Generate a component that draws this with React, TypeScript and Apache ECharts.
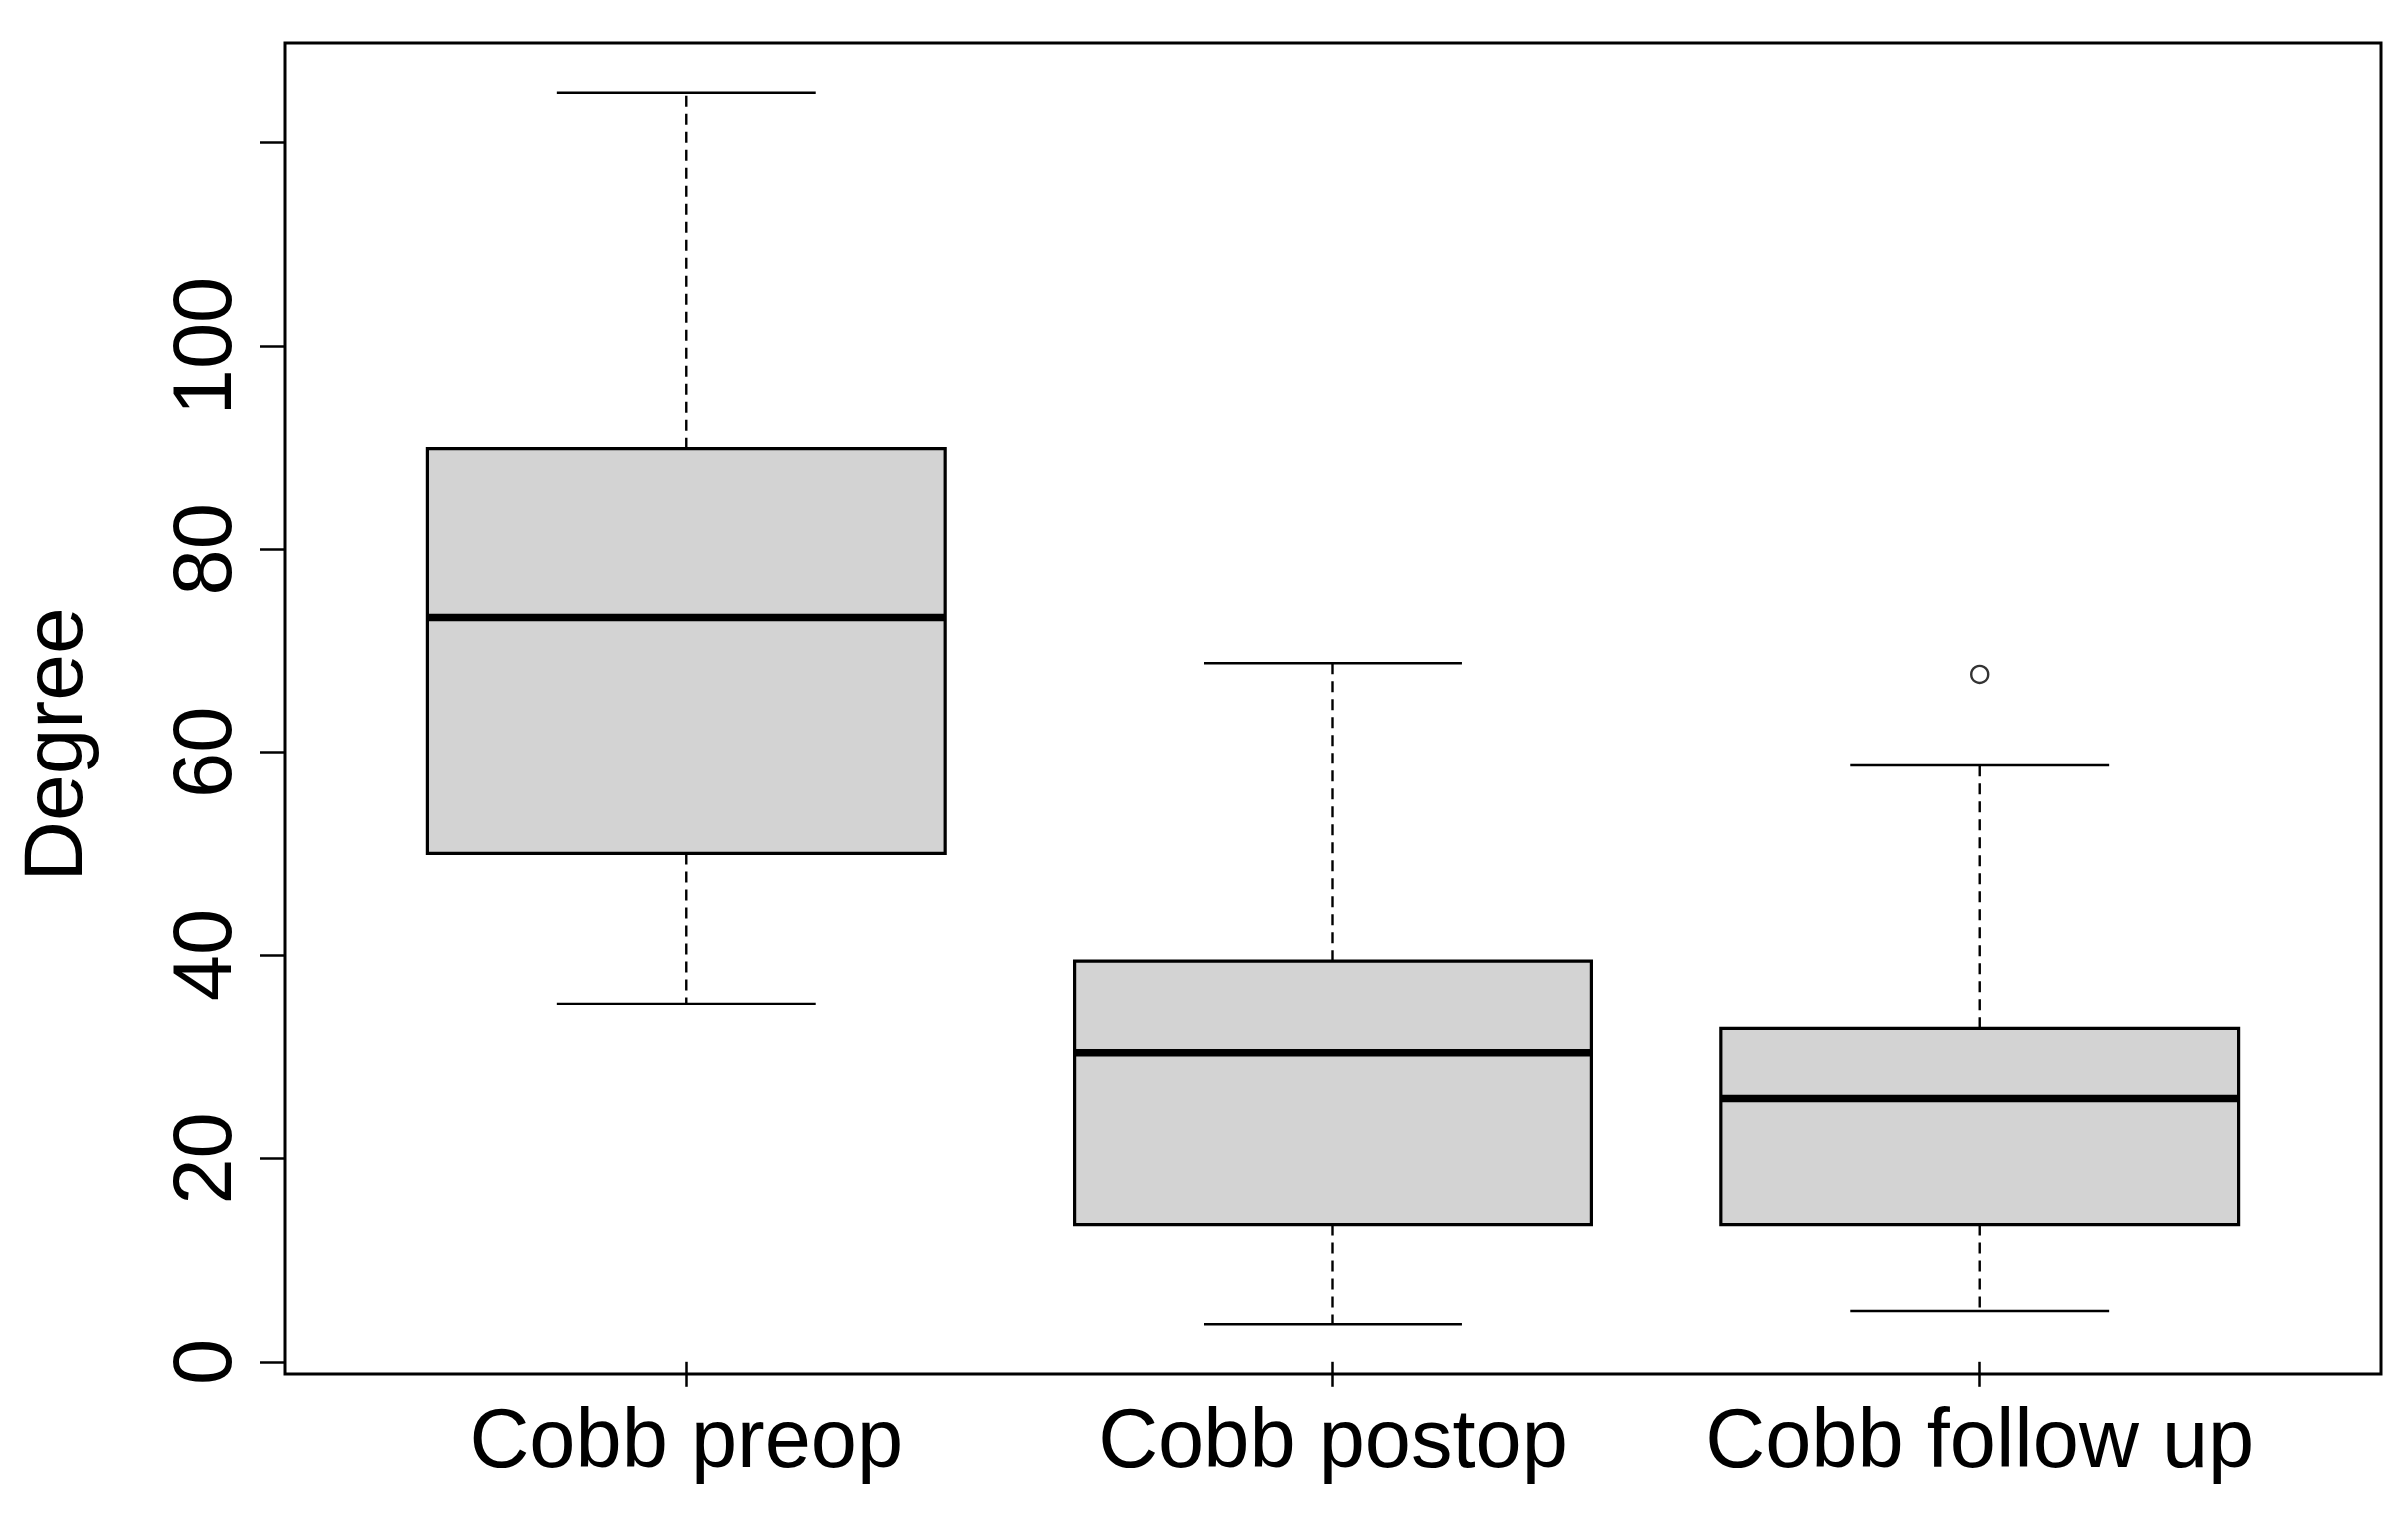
import React, { useEffect, useRef } from "react";
import * as echarts from "echarts";

const categories = ["Cobb preop", "Cobb postop", "Cobb follow up"];
const lowerWhisker = [35.2, 3.7, 5.0];
const q1 = [50.0, 13.5, 13.5];
const median = [73.3, 30.4, 25.9];
const q3 = [89.9, 39.4, 32.8];
const upperWhisker = [124.9, 68.8, 58.7];
const outlierCategory = [3];
const outlierValue = [67.7];
const yTickValues = [0, 20, 40, 60, 80, 100, 120];
const yLabelValues = [0, 20, 40, 60, 80, 100];
const yAxisTitle = "Degree";

const FONT = "'Liberation Sans', Arial, sans-serif";

export default function App() {
  const ref = useRef<HTMLDivElement>(null);
  useEffect(() => {
    if (!ref.current) return;
    const chart = echarts.init(ref.current, null, { renderer: "svg" });
    const boxData = categories.map((_, i) => [
      i + 1,
      lowerWhisker[i],
      q1[i],
      median[i],
      q3[i],
      upperWhisker[i],
    ]);
    const option: any = {
      animation: false,
      backgroundColor: "#ffffff",
      grid: {
        left: 285,
        right: 2409 - 2382,
        top: 43,
        bottom: 1525 - 1375,
        show: true,
        borderColor: "#000",
        borderWidth: 3,
        backgroundColor: "transparent",
      },
      xAxis: {
        type: "value",
        min: 0.38,
        max: 3.62,
        axisLine: { show: false },
        splitLine: { show: false },
        axisTick: {
          show: true,
          length: 25,
          lineStyle: { color: "#000", width: 2.5 },
          customValues: [1, 2, 3],
        },
        axisLabel: {
          show: true,
          customValues: [1, 2, 3],
          formatter: (v: number) => categories[Math.round(v) - 1] ?? "",
          fontFamily: FONT,
          fontSize: 83,
          color: "#000",
          margin: 23,
        },
      },
      yAxis: {
        type: "value",
        min: -1.2,
        max: 129.8,
        axisLine: { show: false },
        splitLine: { show: false },
        axisTick: {
          show: true,
          length: 25,
          lineStyle: { color: "#000", width: 2.5 },
          customValues: yTickValues,
        },
        axisLabel: {
          show: true,
          customValues: yLabelValues,
          rotate: 90,
          fontFamily: FONT,
          fontSize: 83,
          color: "#000",
          margin: 41,
        },
        name: yAxisTitle,
        nameLocation: "middle",
        nameRotate: 90,
        nameGap: 190,
        nameTextStyle: {
          fontFamily: FONT,
          fontSize: 84,
          color: "#000",
          padding: [0, 72, 0, 0],
        },
      },
      series: [
        {
          type: "custom",
          data: boxData,
          encode: { x: 0, y: [1, 2, 3, 4, 5] },
          renderItem: (params: any, api: any) => {
            const x = api.value(0);
            const lo = api.coord([x, api.value(1)]);
            const b1 = api.coord([x, api.value(2)]);
            const med = api.coord([x, api.value(3)]);
            const b3 = api.coord([x, api.value(4)]);
            const hi = api.coord([x, api.value(5)]);
            const halfBox = api.size([0.4, 0])[0];
            const halfCap = api.size([0.2, 0])[0];
            const cx = lo[0];
            const dashStyle = { stroke: "#000", lineWidth: 2.4, lineDash: [11, 7], fill: null };
            const solid = { stroke: "#000", lineWidth: 2.4, fill: null };
            return {
              type: "group",
              children: [
                { type: "line", shape: { x1: cx, y1: b3[1], x2: cx, y2: hi[1] }, style: dashStyle },
                { type: "line", shape: { x1: cx, y1: b1[1], x2: cx, y2: lo[1] }, style: dashStyle },
                { type: "line", shape: { x1: cx - halfCap, y1: hi[1], x2: cx + halfCap, y2: hi[1] }, style: solid },
                { type: "line", shape: { x1: cx - halfCap, y1: lo[1], x2: cx + halfCap, y2: lo[1] }, style: solid },
                {
                  type: "rect",
                  shape: { x: cx - halfBox, y: b3[1], width: halfBox * 2, height: b1[1] - b3[1] },
                  style: { fill: "#d3d3d3", stroke: "#000", lineWidth: 3.2 },
                },
                {
                  type: "line",
                  shape: { x1: cx - halfBox, y1: med[1], x2: cx + halfBox, y2: med[1] },
                  style: { stroke: "#000", lineWidth: 7.5 },
                },
              ],
            };
          },
          z: 2,
        },
        {
          type: "scatter",
          data: outlierCategory.map((c, i) => [c, outlierValue[i]]),
          symbol: "circle",
          symbolSize: 17,
          itemStyle: { color: "#fff", borderColor: "#000", borderWidth: 2.4 },
          z: 3,
        },
      ],
    };
    chart.setOption(option);
    return () => chart.dispose();
  }, []);
  return (
    <div
      ref={ref}
      style={{ position: "absolute", left: 0, top: 0, width: 2409, height: 1525, background: "#fff" }}
    />
  );
}
